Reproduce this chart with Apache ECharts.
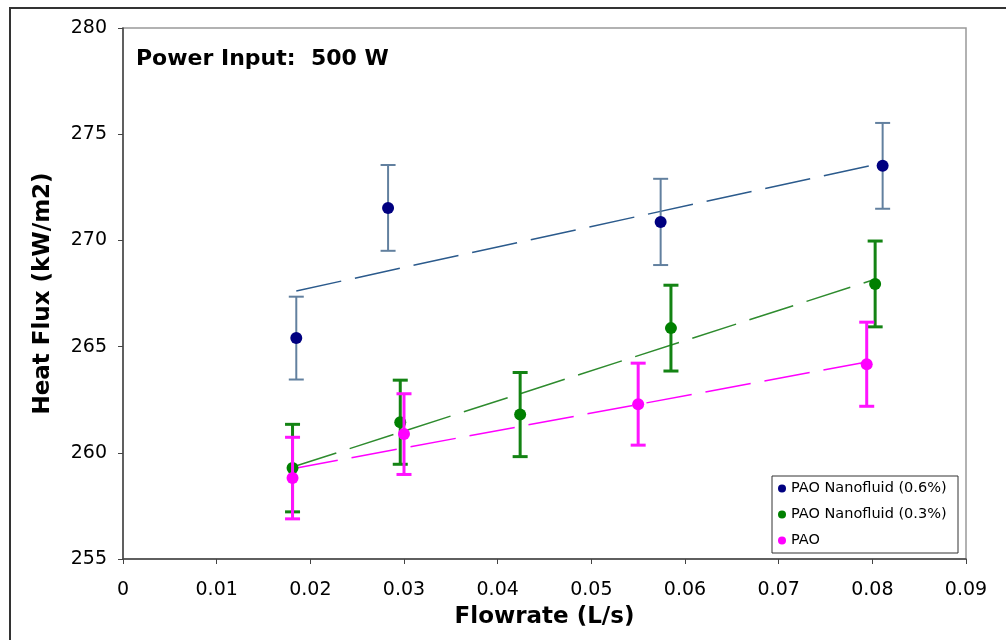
<!DOCTYPE html>
<html>
<head>
<meta charset="utf-8">
<script src="https://cdn.jsdelivr.net/npm/echarts@6/dist/echarts.min.js"></script>
<style>
  html, body { margin: 0; padding: 0; background: #fff; }
  #chart { width: 1006px; height: 640px; }
</style>
</head>
<body>
<div id="chart"></div>
<script>
// ---- Data ----
const seriesNames = ['PAO Nanofluid (0.6%)', 'PAO Nanofluid (0.3%)', 'PAO'];

const blueX   = [0.0185, 0.0283, 0.0574, 0.0811];
const blueY   = [265.40, 271.53, 270.87, 273.51];
const blueErr = [1.95, 2.02, 2.03, 2.02];
const blueTrend = [[0.0185, 267.62], [0.0811, 273.65]];

const greenX   = [0.0181, 0.0296, 0.0424, 0.0585, 0.0803];
const greenY   = [259.28, 261.44, 261.80, 265.87, 267.95];
const greenErr = [2.06, 1.98, 1.98, 2.02, 2.02];
const greenTrend = [[0.0181, 259.33], [0.0803, 268.17]];

const pinkX   = [0.0181, 0.0300, 0.0550, 0.0794];
const pinkY   = [258.81, 260.88, 262.29, 264.17];
const pinkErr = [1.92, 1.90, 1.93, 1.98];
const pinkTrend = [[0.0181, 259.25], [0.0794, 264.28]];

const xTicks = { min: 0, max: 0.09, interval: 0.01 };
const yTicks = { min: 255, max: 280, interval: 5 };
const titleText = 'Power Input:  500 W';
const xName = 'Flowrate (L/s)';
const yName = 'Heat Flux (kW/m2)';

// ---- Build ----
const FONT = 'DejaVu Sans';
const colors = { blue: '#000080', green: '#008000', pink: '#FF00FF' };

function pts(xs, ys) { return xs.map((x, i) => [x, ys[i]]); }
function errData(xs, ys, es) { return xs.map((x, i) => [x, ys[i] - es[i], ys[i] + es[i]]); }

function errSeries(name, data, color, width, z) {
  return {
    type: 'custom', name: name + ' err', z: z, silent: true,
    data: data,
    renderItem: function (params, api) {
      const x = api.value(0);
      const top = api.coord([x, api.value(2)]);
      const bot = api.coord([x, api.value(1)]);
      const hw = 7.5;
      const st = { stroke: color, lineWidth: width };
      return {
        type: 'group',
        children: [
          { type: 'line', shape: { x1: top[0], y1: top[1], x2: bot[0], y2: bot[1] }, style: st },
          { type: 'line', shape: { x1: top[0] - hw, y1: top[1], x2: top[0] + hw, y2: top[1] }, style: st },
          { type: 'line', shape: { x1: bot[0] - hw, y1: bot[1], x2: bot[0] + hw, y2: bot[1] }, style: st }
        ]
      };
    }
  };
}

function trendSeries(data, color, z) {
  return {
    type: 'line', name: 'trend', data: data, z: z, silent: true,
    symbol: 'none', animation: false,
    lineStyle: { color: color, width: 1.5, type: [46, 14] }
  };
}

function ptSeries(name, data, color, z) {
  return {
    type: 'scatter', name: name, data: data, z: z,
    symbol: 'circle', symbolSize: 12,
    itemStyle: { color: color, opacity: 1 }
  };
}

const chart = echarts.init(document.getElementById('chart'), null, { renderer: 'canvas' });

const option = {
  animation: false,
  backgroundColor: '#ffffff',
  textStyle: { fontFamily: FONT },
  grid: { left: 123, right: 40, top: 28, bottom: 81, show: true, borderColor: '#999', borderWidth: 1.5, backgroundColor: '#fff' },
  title: {
    text: titleText, left: 131, top: 43,
    textStyle: { fontFamily: FONT, fontSize: 22, fontWeight: 'bold', color: '#000' }
  },
  legend: {
    data: seriesNames.map(n => ({ name: n, icon: 'circle' })),
    orient: 'vertical', left: 772, top: 476,
    padding: [4, 6, 4, 6], itemGap: 9, itemWidth: 8, itemHeight: 8, itemTextGap: 5,
    textStyle: { fontFamily: FONT, fontSize: 14.5, color: '#000', lineHeight: 17 },
    selectedMode: false
  },
  graphic: [
    { type: 'rect', shape: { x: 10, y: 8, width: 1100, height: 800 }, style: { fill: 'none', stroke: '#333', lineWidth: 2 }, z: 100 },
    { type: 'rect', shape: { x: 772, y: 476, width: 186, height: 77 }, style: { fill: 'none', stroke: '#333', lineWidth: 1 }, z: 100 }
  ],
  xAxis: {
    type: 'value', min: xTicks.min, max: xTicks.max, interval: xTicks.interval,
    name: xName, nameLocation: 'middle', nameGap: 47,
    nameTextStyle: { fontFamily: FONT, fontSize: 23, fontWeight: 'bold', color: '#000' },
    axisLine: { show: true, onZero: false, lineStyle: { color: '#444', width: 1.5 } },
    axisTick: { show: true, length: 5, inside: false, lineStyle: { color: '#444', width: 1 } },
    axisLabel: { margin: 22, fontFamily: FONT, fontSize: 19, color: '#000',
      formatter: v => (Math.abs(v) < 1e-9 ? '0' : v.toFixed(2)) },
    splitLine: { show: false }
  },
  yAxis: {
    type: 'value', min: yTicks.min, max: yTicks.max, interval: yTicks.interval,
    name: yName, nameLocation: 'middle', nameGap: 68,
    nameTextStyle: { fontFamily: FONT, fontSize: 23, fontWeight: 'bold', color: '#000' },
    axisLine: { show: true, onZero: false, lineStyle: { color: '#444', width: 1.5 } },
    axisTick: { show: true, length: 5, inside: false, lineStyle: { color: '#444', width: 1 } },
    axisLabel: { margin: 16, fontFamily: FONT, fontSize: 19, color: '#000' },
    splitLine: { show: false }
  },
  series: [
    trendSeries(blueTrend, '#2B5A8C', 2),
    trendSeries(greenTrend, '#2E8B2E', 2),
    trendSeries(pinkTrend, '#FF00FF', 2),
    errSeries(seriesNames[0], errData(blueX, blueY, blueErr), '#62809F', 2, 3),
    ptSeries(seriesNames[0], pts(blueX, blueY), colors.blue, 4),
    errSeries(seriesNames[1], errData(greenX, greenY, greenErr), '#138313', 3, 5),
    ptSeries(seriesNames[1], pts(greenX, greenY), colors.green, 6),
    errSeries(seriesNames[2], errData(pinkX, pinkY, pinkErr), '#FF14FF', 3, 7),
    ptSeries(seriesNames[2], pts(pinkX, pinkY), colors.pink, 8)
  ]
};
chart.setOption(option);
</script>
</body>
</html>
